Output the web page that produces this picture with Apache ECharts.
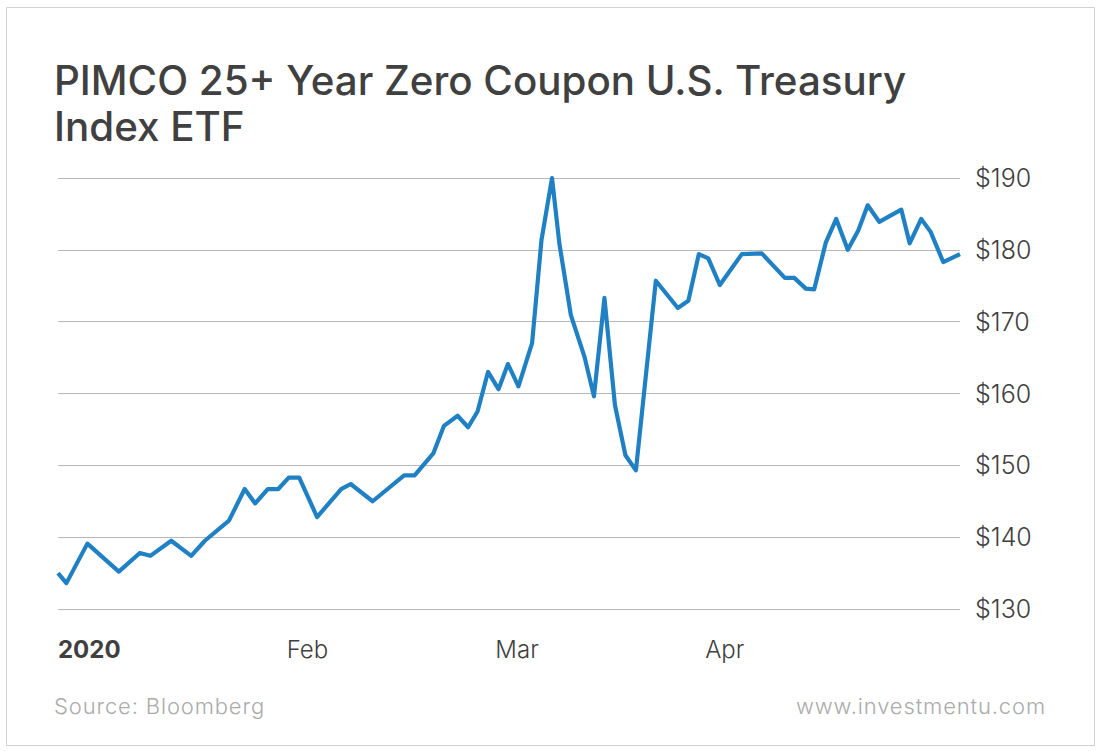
<!DOCTYPE html>
<html>
<head>
<meta charset="utf-8">
<style>
html, body { margin: 0; padding: 0; background: #fff; }
#chart { width: 1100px; height: 751px; }
/* source and site lines are spaced out in the original */
#chart svg text[style*="22px"] { letter-spacing: 0.86px; }
</style>
<script src="https://cdn.jsdelivr.net/npm/echarts@6/dist/echarts.min.js"></script>
</head>
<body>
<div id="chart"></div>
<script>
// trading days since the start of 2020
var days = [0, 0.8, 2.8, 5.8, 7.8, 8.8, 10.8, 12.7, 14, 16.3, 17.8, 18.8, 20, 21, 22, 23, 24.7, 27, 27.9, 30,
    33, 34, 35.8, 36.8, 38.1, 39.1, 40, 41, 42, 42.9, 43.9, 45.2, 46.1, 47.1, 47.8, 48.9, 50.2, 51.1, 52.1, 53.1,
    54.1, 55.1, 57, 59.1, 60.1, 61.1, 62, 63.1, 65.2, 67.1, 69.3, 70.2, 71.3, 72.1, 73.2, 74.2, 75.3, 76.3, 77.2, 78.3,
    80.4, 81.2, 82.3, 83.2, 84.4, 86];
var prices = [135, 133.6, 139.1, 135.2, 137.8, 137.4, 139.5, 137.4, 139.5, 142.3, 146.7, 144.7, 146.7, 146.7, 148.3, 148.3, 142.8, 146.7, 147.4, 145,
    148.6, 148.6, 151.7, 155.5, 156.9, 155.3, 157.5, 163, 160.6, 164.1, 161, 167, 181.4, 190, 180.9, 170.9, 165.1, 159.6, 173.3, 158.4,
    151.4, 149.3, 175.7, 171.9, 172.9, 179.4, 178.8, 175.1, 179.4, 179.5, 176.1, 176.1, 174.6, 174.5, 181, 184.3, 180, 182.7, 186.2, 183.9,
    185.6, 180.9, 184.3, 182.5, 178.3, 179.4];
var tickDays = [0, 21.8, 41.7, 61.7];
var tickLabels = ["2020", "Feb", "Mar", "Apr"];

var titleText = "PIMCO 25+ Year Zero Coupon U.S. Treasury\nIndex ETF";
var sourceText = "Source: Bloomberg";
var siteText = "www.investmentu.com";

var points = [];
for (var i = 0; i < days.length; i++) {
    points.push([days[i], prices[i]]);
}

var myChart = echarts.init(document.getElementById('chart'), null, { renderer: 'svg' });

var option = {
    animation: false,
    backgroundColor: '#fff',
    textStyle: { fontFamily: 'Inter' },
    title: {
        text: titleText,
        left: 54,
        top: 57,
        padding: 0,
        textStyle: { fontFamily: 'Inter', fontSize: 40.3, fontWeight: 500, lineHeight: 46, color: '#404040' }
    },
    grid: { left: 58, right: 140, top: 178, bottom: 142 },
    xAxis: {
        type: 'value',
        min: 0,
        max: 86,
        splitLine: { show: false },
        axisLine: { show: false },
        axisTick: { show: false },
        axisLabel: {
            customValues: tickDays,
            align: 'left',
            margin: 28,
            fontSize: 24,
            fontWeight: 300,
            color: '#404040',
            formatter: function (value) {
                var label = tickLabels[tickDays.indexOf(value)];
                return value === 0 ? '{year|' + label + '}' : label;
            },
            rich: {
                year: { fontFamily: 'Inter', fontSize: 24, fontWeight: 700, color: '#404040' }
            }
        }
    },
    yAxis: {
        type: 'value',
        position: 'right',
        min: 130,
        max: 190,
        interval: 10,
        axisLine: { show: false },
        axisTick: { show: false },
        splitLine: { lineStyle: { color: '#b8b8b8', width: 1 } },
        axisLabel: {
            margin: 15,
            padding: [0, 0, 2, 0],
            fontSize: 25,
            fontWeight: 300,
            color: '#404040',
            formatter: '${value}'
        }
    },
    series: [{
        type: 'line',
        data: points,
        symbol: 'none',
        clip: false,
        lineStyle: { color: '#2080c4', width: 4.2, join: 'round' }
    }],
    graphic: [
        {
            type: 'rect',
            silent: true,
            shape: { x: 6.5, y: 7.5, width: 1088, height: 738 },
            style: { fill: 'none', stroke: '#d0d0d0', lineWidth: 1 }
        },
        {
            type: 'text',
            silent: true,
            x: 54,
            y: 695,
            style: { text: sourceText, fontFamily: 'Inter', fontSize: 22, fontWeight: 300, fill: '#ababab' }
        },
        {
            type: 'text',
            silent: true,
            x: 1046,
            y: 695,
            style: { text: siteText, textAlign: 'right', fontFamily: 'Inter', fontSize: 22, fontWeight: 300, fill: '#ababab' }
        }
    ]
};

myChart.setOption(option);
</script>
</body>
</html>
